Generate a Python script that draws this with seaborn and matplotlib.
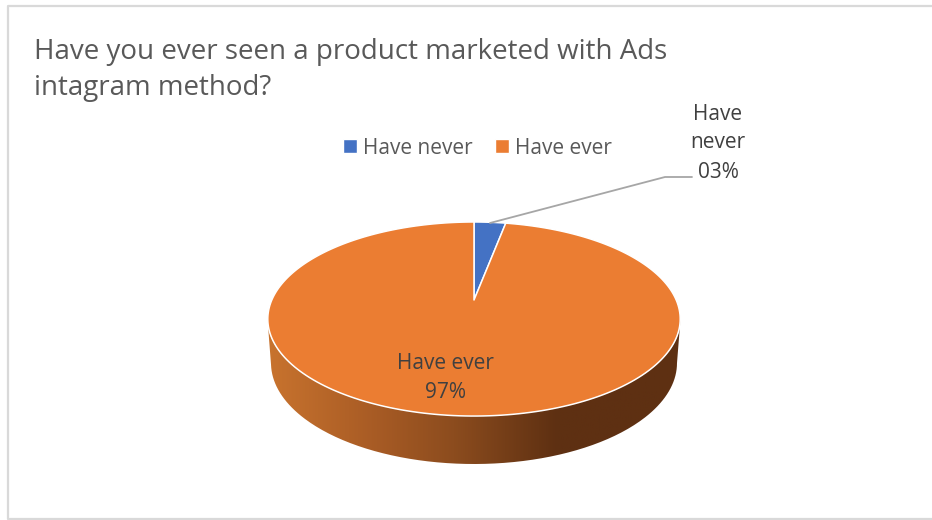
import numpy as np
import matplotlib
matplotlib.use("Agg")
import matplotlib.pyplot as plt
from matplotlib.colors import LinearSegmentedColormap
from matplotlib.patches import Patch, PathPatch, Polygon
from matplotlib.path import Path
from matplotlib.transforms import Affine2D
import seaborn as sns

# Data
labels = ["Have never", "Have ever"]
values = [3, 97]
title = "Have you ever seen a product marketed with Ads\nintagram method?"

sns.set_theme(style="white")
plt.rcParams["font.family"] = ["Open Sans", "DejaVu Sans"]
colors = sns.color_palette(["#4472C4", "#EB7D32"])
text_color = "#404040"

fig = plt.figure(figsize=(9.32, 5.2), dpi=100)
ax = fig.add_axes([0, 0, 1, 1])

# Perspective of the tilted pie, in pixels of the figure
cx, cy = 474, 300
sx, sy = 202.2, 93.3
k = 0.196


def project(xy):
    w = 1 + k * xy[:, 1]
    return np.column_stack([cx + sx * xy[:, 0] / w, cy - sy * xy[:, 1] / w])


wedges, _ = ax.pie(values, colors=colors, startangle=90, counterclock=False)
for wedge, color in zip(wedges, colors):
    # flatten the curve at a big scale so the outline stays smooth
    big = wedge.get_path().transformed(Affine2D().scale(2000))
    poly = big.to_polygons()[0] / 2000
    wedge.remove()
    ax.add_patch(Polygon(project(poly), closed=True, facecolor=color,
                         edgecolor="white", linewidth=1.1, zorder=3, joinstyle="round"))

# Side of the pie with its dark gradient
t = np.linspace(0, np.pi, 200)
top_x = 474 + 206.5 * np.cos(t)
top_y = 319 + 97 * np.sin(t)
low_x = 474 + 203 * np.cos(t[::-1])
low_y = 363 + 101 * np.sin(t[::-1])
side = Path(np.column_stack([np.r_[top_x, low_x], np.r_[top_y, low_y]]))
side_cmap = LinearSegmentedColormap.from_list(
    "side", [(0, "#C8732E"), (0.25, "#A95C25"), (0.45, "#8C4C1E"), (0.7, "#5E3012"), (1, "#5E3012")])
img = ax.imshow(np.linspace(0, 1, 256)[None, :], cmap=side_cmap, aspect="auto",
                extent=(268, 681, 470, 315), zorder=2)
clip = PathPatch(side, transform=ax.transData, facecolor="none", edgecolor="none")
ax.add_patch(clip)
img.set_clip_path(clip)

# Data labels
ax.text(445, 378, f"{labels[1]}\n{values[1]:02d}%", ha="center", va="center",
        fontsize=15, color=text_color, linespacing=1.5, zorder=4)
ax.text(718, 143, f"{labels[0].replace(' ', chr(10))}\n{values[0]:02d}%", ha="center", va="center",
        fontsize=15, color=text_color, linespacing=1.5, zorder=4)
ax.plot([490, 665, 692], [223, 177, 177], color="#A6A6A6", linewidth=1.3, zorder=4)

# Legend
handles = [Patch(facecolor=c, label=l) for c, l in zip(colors, labels)]
ax.legend(handles=handles, ncol=2, frameon=False, loc="center left",
          bbox_to_anchor=(343 / 932, 1 - 148 / 520), fontsize=15, labelcolor="#595959",
          handlelength=0.68, handleheight=0.68, handletextpad=0.3, columnspacing=1.05,
          borderpad=0, borderaxespad=0)

# Title
ax.text(34, 70, title, ha="left", va="center", fontsize=20, color="#595959", linespacing=1.35)

# Chart frame
ax.plot([932, 8, 8, 932], [5.5, 5.5, 519, 519], color="#D9D9D9", linewidth=1.6, clip_on=False)

ax.set_xlim(0, 932)
ax.set_ylim(520, 0)
ax.set_aspect("auto")
ax.axis("off")

fig.savefig("out.png", dpi=100)
